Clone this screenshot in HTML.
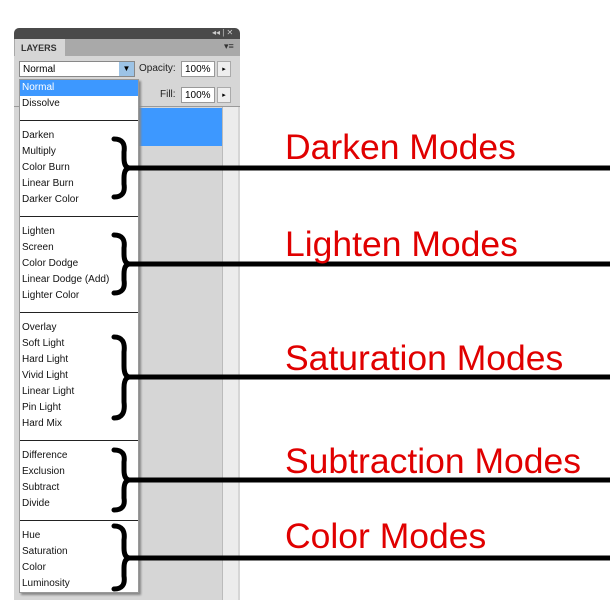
<!DOCTYPE html>
<html><head><style>
body{margin:0;width:610px;height:600px;background:#fff;position:relative;overflow:hidden;font-family:"Liberation Sans",Arial,sans-serif}
.a{position:absolute}
.mi{position:absolute;left:22px;font-size:10px;color:#111}
.lab{position:absolute;left:285px;font-size:35.5px;color:#e00000;line-height:1}
</style></head><body>
<div class="a" style="left:14px;top:28px;width:226px;height:572px;background:#d6d6d6;border-radius:5px 5px 0 0"></div>
<div class="a" style="left:14px;top:28px;width:226px;height:11px;background:#4a4a4a;border-radius:5px 5px 0 0"></div>
<div class="a" style="left:212px;top:28px;font-size:8px;color:#ccc">◂◂ | ✕</div>
<div class="a" style="left:14px;top:39px;width:226px;height:17px;background:#a9a9a9"></div>
<div class="a" style="left:15px;top:39px;width:50px;height:18px;background:#d6d6d6;font-size:9px;font-weight:bold;color:#333;line-height:18px;padding-left:6px;box-sizing:border-box">LAYERS</div>
<div class="a" style="left:224px;top:41px;font-size:9px;color:#333">▾≡</div>
<div class="a" style="left:19px;top:61px;width:116px;height:16px;background:#fff;border:1px solid #888;font-size:10px;line-height:16px;padding-left:3px;box-sizing:border-box">Normal</div>
<div class="a" style="left:119px;top:62px;width:15px;height:14px;background:#9cc3e6;font-size:8px;text-align:center;line-height:14px">▼</div>
<div class="a" style="left:139px;top:63px;font-size:10px;color:#222">Opacity:</div>
<div class="a" style="left:181px;top:61px;width:34px;height:16px;background:#fff;border:1px solid #999;font-size:10px;line-height:16px;padding-left:3px;box-sizing:border-box">100%</div>
<div class="a" style="left:217px;top:61px;width:14px;height:16px;background:#eee;border:1px solid #aaa;font-size:7px;text-align:center;line-height:16px;box-sizing:border-box">▸</div>
<div class="a" style="left:160px;top:89px;font-size:10px;color:#222">Fill:</div>
<div class="a" style="left:181px;top:87px;width:34px;height:16px;background:#fff;border:1px solid #999;font-size:10px;line-height:16px;padding-left:3px;box-sizing:border-box">100%</div>
<div class="a" style="left:217px;top:87px;width:14px;height:16px;background:#eee;border:1px solid #aaa;font-size:7px;text-align:center;line-height:16px;box-sizing:border-box">▸</div>
<div class="a" style="left:14px;top:106px;width:226px;height:1px;background:#999"></div>
<div class="a" style="left:222px;top:107px;width:15px;height:493px;background:#ececec;border-left:1px solid #bbb"></div>
<div class="a" style="left:138px;top:108px;width:84px;height:38px;background:#3d98ff"></div>
<div class="a" style="left:19px;top:79px;width:120px;height:514px;background:#fff;border:1px solid #999;box-sizing:border-box;box-shadow:2px 2px 2px #888"></div>
<div class="a" style="left:20px;top:80px;width:118px;height:16px;background:#3d98ff"></div>
<div class="a" style="left:20px;top:120px;width:118px;height:1px;background:#222"></div>
<div class="a" style="left:20px;top:216px;width:118px;height:1px;background:#222"></div>
<div class="a" style="left:20px;top:312px;width:118px;height:1px;background:#222"></div>
<div class="a" style="left:20px;top:440px;width:118px;height:1px;background:#222"></div>
<div class="a" style="left:20px;top:520px;width:118px;height:1px;background:#222"></div>
<div class="mi" style="top:82px;color:#fff">Normal</div>
<div class="mi" style="top:98px">Dissolve</div>
<div class="mi" style="top:130px">Darken</div>
<div class="mi" style="top:146px">Multiply</div>
<div class="mi" style="top:162px">Color Burn</div>
<div class="mi" style="top:178px">Linear Burn</div>
<div class="mi" style="top:194px">Darker Color</div>
<div class="mi" style="top:226px">Lighten</div>
<div class="mi" style="top:242px">Screen</div>
<div class="mi" style="top:258px">Color Dodge</div>
<div class="mi" style="top:274px">Linear Dodge (Add)</div>
<div class="mi" style="top:290px">Lighter Color</div>
<div class="mi" style="top:322px">Overlay</div>
<div class="mi" style="top:338px">Soft Light</div>
<div class="mi" style="top:354px">Hard Light</div>
<div class="mi" style="top:370px">Vivid Light</div>
<div class="mi" style="top:386px">Linear Light</div>
<div class="mi" style="top:402px">Pin Light</div>
<div class="mi" style="top:418px">Hard Mix</div>
<div class="mi" style="top:450px">Difference</div>
<div class="mi" style="top:466px">Exclusion</div>
<div class="mi" style="top:482px">Subtract</div>
<div class="mi" style="top:498px">Divide</div>
<div class="mi" style="top:530px">Hue</div>
<div class="mi" style="top:546px">Saturation</div>
<div class="mi" style="top:562px">Color</div>
<div class="mi" style="top:578px">Luminosity</div>
<svg class="a" style="left:0;top:0" width="610" height="600" fill="none" stroke="#000" stroke-width="5">
<g stroke-linecap="round">
<path d="M114 139 Q126 139 124 152 L124 158 Q124 168 130 168 Q124 168 124 178 L124 184 Q126 197 114 197"/>
<path d="M114 235 Q126 235 124 248 L124 254 Q124 264 130 264 Q124 264 124 274 L124 280 Q126 293 114 293"/>
<path d="M114 337 Q126 337 124 352 L124 366 Q124 377 130 377 Q124 377 124 388 L124 402 Q126 418 114 418"/>
<path d="M114 450 Q126 450 124 462 L124 470 Q124 480 130 480 Q124 480 124 490 L124 498 Q126 510 114 510"/>
<path d="M114 526 Q126 526 124 540 L124 548 Q124 558 130 558 Q124 558 124 568 L124 576 Q126 589 114 589"/>
</g>
<path d="M128 168H610M128 264H610M128 377H610M128 480H610M128 558H610"/>
</svg>
<div class="lab" style="top:130px">Darken Modes</div>
<div class="lab" style="top:227px">Lighten Modes</div>
<div class="lab" style="top:341px">Saturation Modes</div>
<div class="lab" style="top:444px">Subtraction Modes</div>
<div class="lab" style="top:519px">Color Modes</div>
</body></html>
